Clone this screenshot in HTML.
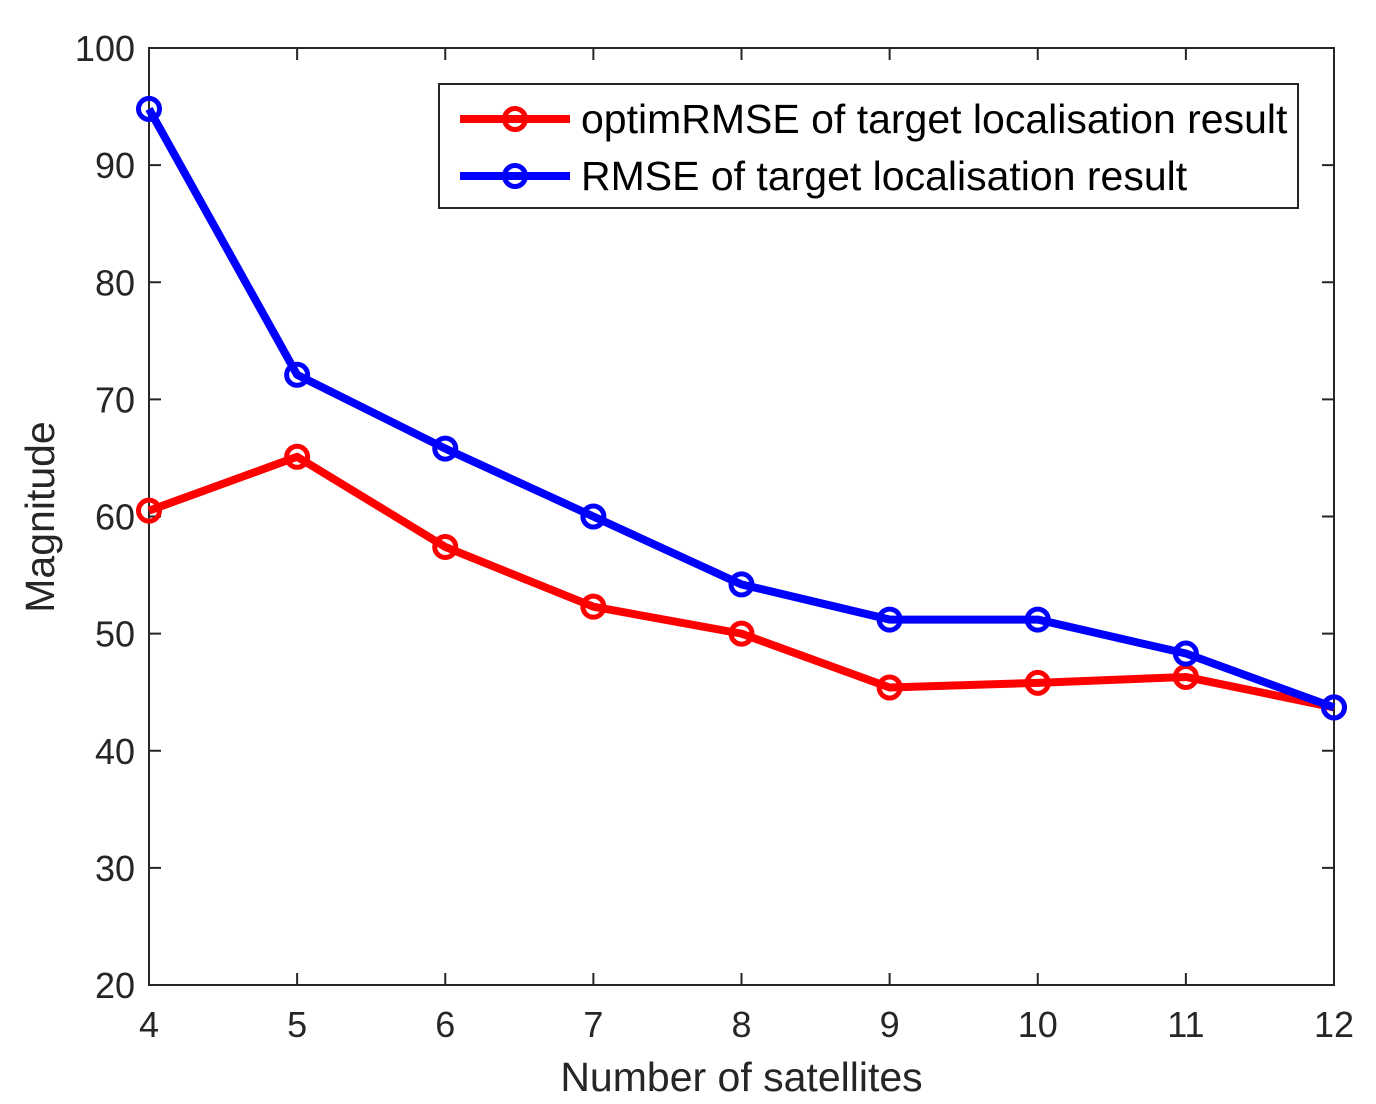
<!DOCTYPE html>
<html><head><meta charset="utf-8"><style>
html,body{margin:0;padding:0;background:#fff;}
svg{display:block;font-family:"Liberation Sans",Arial,sans-serif;}
</style></head><body>
<svg id="chart" width="1376" height="1104">
<g id="grid"></g>
<g id="series"></g>
<g id="legend"></g>
</svg>
<script>
const categories = [4,5,6,7,8,9,10,11,12];
const optimRMSE = [60.5,65.1,57.4,52.3,50.0,45.4,45.8,46.3,43.7];
const RMSE = [94.8,72.1,65.8,60.0,54.2,51.2,51.2,48.3,43.7];
const yTicks = [20,30,40,50,60,70,80,90,100];
const xTicks = [4,5,6,7,8,9,10,11,12];

const L=149,R=1334,T=48,B=985;
const xs=v=>L+(v-4)/(12-4)*(R-L);
const ys=v=>B-(v-20)/(100-20)*(B-T);
const NS='http://www.w3.org/2000/svg';
function mk(tag,attrs,parent){const e=document.createElementNS(NS,tag);for(const k in attrs)e.setAttribute(k,attrs[k]);parent.appendChild(e);return e;}
const g=document.getElementById('grid');
const box=mk('rect',{x:L,y:T,width:R-L,height:B-T,fill:'#fff',stroke:'#262626','stroke-width':2},g);


yTicks.forEach(v=>{
  const y=ys(v);
  mk('line',{x1:L,y1:y,x2:L+12,y2:y,stroke:'#262626','stroke-width':2},g);
  mk('line',{x1:R,y1:y,x2:R-12,y2:y,stroke:'#262626','stroke-width':2},g);
  const t=mk('text',{x:L-14,y:y+13,'text-anchor':'end','font-size':36,fill:'#262626'},g);
  t.textContent=v;
  
  
});
xTicks.forEach(v=>{
  const x=xs(v);
  mk('line',{x1:x,y1:B,x2:x,y2:B-12,stroke:'#262626','stroke-width':2},g);
  mk('line',{x1:x,y1:T,x2:x,y2:T+12,stroke:'#262626','stroke-width':2},g);
  const t=mk('text',{x:x,y:B+52,'text-anchor':'middle','font-size':36,fill:'#262626'},g);
  t.textContent=v;
  
  
});
const xt=mk('text',{x:(L+R)/2,y:1091,'text-anchor':'middle','font-size':41,fill:'#262626'},g);
xt.textContent='Number of satellites';


const yt=mk('text',{x:0,y:0,transform:'translate(54,517) rotate(-90)','text-anchor':'middle','font-size':41,fill:'#262626'},g);
yt.textContent='Magnitude';



const sg=document.getElementById('series');
function drawSeries(vals,color,name){
  const grp=mk('g',{},sg);
  
  
  mk('polyline',{points:vals.map((v,i)=>xs(categories[i])+','+ys(v)).join(' '),fill:'none',stroke:color,'stroke-width':8,'stroke-linejoin':'round'},grp);
  vals.forEach((v,i)=>{
    const c=mk('circle',{cx:xs(categories[i]),cy:ys(v),r:10.5,fill:'none',stroke:color,'stroke-width':5},grp);
    
    
  });
}
drawSeries(optimRMSE,'#ff0000','optim-rmse-series');
drawSeries(RMSE,'#0000ff','rmse-series');

const lg=document.getElementById('legend');
mk('rect',{x:439,y:84,width:859,height:124,fill:'#fff',stroke:'#262626','stroke-width':2},lg);
[['optimRMSE of target localisation result','#ff0000',119],['RMSE of target localisation result','#0000ff',176]].forEach(([lab,col,y])=>{
  const e=mk('g',{},lg);
  
  
  mk('line',{x1:460,y1:y,x2:570,y2:y,stroke:col,'stroke-width':8},e);
  mk('circle',{cx:515,cy:y,r:10.5,fill:'none',stroke:col,'stroke-width':5},e);
  const t=mk('text',{x:581,y:y+14,'font-size':41,fill:'#000'},e);
  t.textContent=lab;
});
</script>
</body></html>
